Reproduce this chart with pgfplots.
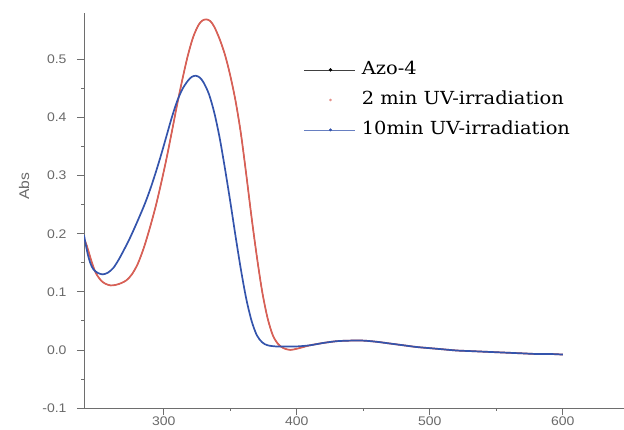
\documentclass[border=0pt]{standalone}
\usepackage{pgfplots}
\pgfplotsset{compat=1.18}
\usepackage{fontspec}
\setmainfont{DejaVu Serif}[FakeStretch=1.08]
\newfontfamily\ticksfont{Liberation Sans}[FakeStretch=1.12]
\definecolor{redC}{RGB}{218,96,86}
\definecolor{blueC}{RGB}{52,84,172}
\definecolor{axisC}{RGB}{110,110,110}
\definecolor{labC}{RGB}{105,105,105}

\pgfplotstableread{
x y
240 0.192
242 0.180
244 0.165
246 0.150
248 0.137
250 0.128
253 0.119
256 0.114
260 0.111
264 0.112
268 0.115
272 0.120
276 0.130
280 0.146
283 0.163
286 0.183
290 0.214
294 0.248
298 0.287
302 0.329
306 0.375
310 0.422
314 0.466
318 0.506
322 0.538
326 0.559
329 0.567
332 0.569
335 0.566
338 0.556
342 0.535
346 0.508
350 0.472
354 0.428
358 0.372
362 0.302
366 0.228
370 0.160
374 0.100
378 0.055
382 0.025
386 0.010
390 0.003
395 0.000
400 0.002
405 0.005
410 0.008
420 0.012
430 0.015
440 0.016
450 0.016
460 0.014
470 0.011
480 0.008
490 0.005
500 0.003
510 0.001
520 -0.001
530 -0.002
540 -0.003
550 -0.004
560 -0.005
570 -0.006
580 -0.007
590 -0.007
600 -0.008
}\redtable

\pgfplotstableread{
x y
240 0.198
241 0.185
243 0.163
245 0.148
247 0.139
250 0.133
254 0.130
258 0.133
262 0.141
266 0.155
270 0.172
274 0.190
278 0.210
282 0.231
286 0.253
290 0.278
294 0.306
298 0.336
302 0.368
306 0.400
310 0.428
314 0.449
318 0.463
321 0.470
324 0.472
327 0.469
330 0.460
334 0.440
338 0.408
342 0.365
346 0.312
350 0.255
354 0.195
358 0.138
362 0.088
366 0.050
370 0.025
374 0.013
378 0.008
384 0.006
390 0.006
400 0.006
410 0.008
420 0.012
430 0.015
440 0.016
450 0.016
460 0.014
470 0.011
480 0.008
490 0.005
500 0.003
510 0.001
520 -0.001
530 -0.002
540 -0.003
550 -0.004
560 -0.005
570 -0.006
580 -0.007
590 -0.007
600 -0.008
}\bluetable

\begin{document}
\begin{tikzpicture}
\useasboundingbox (0,0) rectangle (624pt,430pt);
\clip (0,0) rectangle (624pt,430pt);
\begin{axis}[
  at={(84pt,22pt)}, anchor=south west,
  scale only axis,
  width=558.6pt, height=395pt,
  xmin=240, xmax=660,
  ymin=-0.1, ymax=0.58,
  axis x line*=bottom, axis y line*=left,
  axis line style={axisC, line width=0.8pt},
  every tick/.style={axisC, line width=0.8pt},
  tick align=outside,
  major tick length=7pt, minor tick length=3pt,
  xtick={300,400,500,600},
  minor x tick num=1,
  ytick={-0.1,0,0.1,0.2,0.3,0.4,0.5},
  minor y tick num=1,
  /pgf/number format/assume math mode=true,
  yticklabel style={/pgf/number format/.cd, fixed, fixed zerofill, precision=1, /tikz/.cd, xshift=-7pt},
  xticklabel style={/pgf/number format/.cd, fixed, precision=0, /tikz/.cd, yshift=2pt},
  ticklabel style={font=\ticksfont\fontsize{12.5}{14}\selectfont, text=labC},
  ylabel={Abs},
  ylabel style={at={(axis cs:195,0.282)}, anchor=center, font=\ticksfont\fontsize{14}{16}\selectfont, text=labC},
  legend cell align=left,
  legend style={draw=none, fill=none, at={(axis cs:405.4,0.497)}, anchor=north west,
    inner sep=0pt, row sep=13pt, column sep=3pt,
    font=\fontsize{18}{20}\selectfont,
    nodes={text height=13pt, text depth=4pt, inner xsep=3pt, inner ysep=0pt}},
]
\addlegendimage{legend image code/.code={\draw[black!75, line width=0.6pt] (0pt,0pt)--(51pt,0pt); \fill[black] (26pt,0pt) circle (1.5pt);}}
\addlegendimage{legend image code/.code={\fill[redC!70] (26pt,0pt) circle (1.1pt);}}
\addlegendimage{legend image code/.code={\draw[blueC!75, line width=0.6pt] (0pt,0pt)--(51pt,0pt); \fill[blueC] (26pt,0pt) circle (1.3pt);}}
\addplot[forget plot, black, line width=0.8pt, smooth] table[x=x,y=y] {\redtable};
\addplot[forget plot, redC, line width=1.7pt, smooth] table[x=x,y=y] {\redtable};
\addplot[forget plot, blueC, line width=1.7pt, smooth] table[x=x,y=y] {\bluetable};
\legend{Azo-4, 2 min UV-irradiation, 10min UV-irradiation}
\end{axis}
\end{tikzpicture}
\end{document}
